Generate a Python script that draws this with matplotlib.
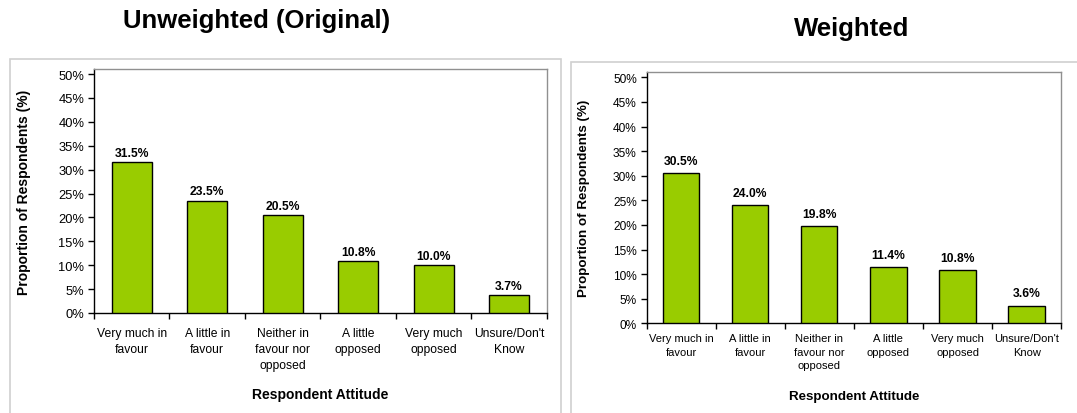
import matplotlib
matplotlib.use("Agg")
import matplotlib.pyplot as plt
from matplotlib.patches import Rectangle
import numpy as np

categories = ["Very much in\nfavour", "A little in\nfavour", "Neither in\nfavour nor\nopposed",
              "A little\nopposed", "Very much\nopposed", "Unsure/Don't\nKnow"]
unweighted = [31.5, 23.5, 20.5, 10.8, 10.0, 3.7]
weighted = [30.5, 24.0, 19.8, 11.4, 10.8, 3.6]
yticks = [0, 5, 10, 15, 20, 25, 30, 35, 40, 45, 50]
titles = ["Unweighted (Original)", "Weighted"]

plt.rcParams['font.family'] = ['Liberation Sans', 'DejaVu Sans']

W, H = 1077, 414
fig = plt.figure(figsize=(W / 100, H / 100), dpi=100)

def px_axes(x0, x1, ytop, ybot):
    return fig.add_axes([x0 / W, 1 - ybot / H, (x1 - x0) / W, (ybot - ytop) / H])

# outer frames
for (x0, y0, x1, y1) in [(10, 60, 561, 420), (571, 63, 1085, 420)]:
    fig.patches.append(Rectangle((x0 / W, 1 - y1 / H), (x1 - x0) / W, (y1 - y0) / H,
                                 transform=fig.transFigure, fill=False,
                                 edgecolor="#d0d0d0", linewidth=1.2))

panels = [
    dict(vals=unweighted, x0=94, x1=546.7, ytop=70, y0=314, y50=75, tfs=18.5, tx=257, ty=21,
         tick_fs=8.7, ytick_fs=9.3, lab_fs=10, val_fs=8.7, ylx=24, xly=395, width=0.53, xpad=10,
         ls=1.45, voff=2.5),
    dict(vals=weighted, x0=646.5, x1=1061.2, ytop=73.3, y0=324.3, y50=78.3, tfs=18.5, tx=852, ty=29,
         tick_fs=8.0, ytick_fs=8.6, lab_fs=9.6, val_fs=8.7, ylx=584.5, xly=397, width=0.525, xpad=7,
         ls=1.45, voff=4.5),
]

for p, title in zip(panels, titles):
    ax = px_axes(p["x0"], p["x1"], p["ytop"], p["y0"])
    n = len(categories)
    x = np.arange(n)
    ax.bar(x, p["vals"], width=p["width"], color="#99CC00", edgecolor="black", linewidth=1.0, zorder=3)
    ytop_val = 50 * (p["y0"] - p["ytop"]) / (p["y0"] - p["y50"])
    ax.set_ylim(0, ytop_val)
    ax.set_xlim(-0.5, n - 0.5)
    ax.set_yticks(yticks)
    ax.set_yticklabels([f"{v}%" for v in yticks], fontsize=p["ytick_fs"])
    ax.set_xticks(x)
    ax.set_xticklabels(categories, fontsize=p["tick_fs"], linespacing=p["ls"])
    ax.set_xticks(np.arange(-0.5, n, 1.0), minor=True)
    ax.tick_params(axis="x", which="major", length=0, pad=p["xpad"])
    ax.tick_params(axis="x", which="minor", length=4, width=1, direction="out")
    ax.tick_params(axis="y", length=4, width=1, direction="out", pad=3)
    for s in ["left", "bottom"]:
        ax.spines[s].set_color("black")
        ax.spines[s].set_linewidth(1.0)
    for s in ["top", "right"]:
        ax.spines[s].set_color("#909090")
        ax.spines[s].set_linewidth(1.0)
    for xi, v in zip(x, p["vals"]):
        ax.annotate(f"{v:.1f}%", (xi, v), xytext=(0, p["voff"]), textcoords="offset points",
                    ha="center", va="bottom", fontsize=p["val_fs"], fontweight="bold")
    fig.text(p["ylx"] / W, 1 - ((p["ytop"] + p["y0"]) / 2) / H, "Proportion of Respondents (%)",
             rotation=90, ha="center", va="center", fontsize=p["lab_fs"], fontweight="bold")
    fig.text(((p["x0"] + p["x1"]) / 2) / W, 1 - p["xly"] / H, "Respondent Attitude",
             ha="center", va="center", fontsize=p["lab_fs"], fontweight="bold")
    fig.text(p["tx"] / W, 1 - p["ty"] / H, title, ha="center", va="center",
             fontsize=p["tfs"], fontweight="bold")

fig.savefig("out.png", dpi=100)
